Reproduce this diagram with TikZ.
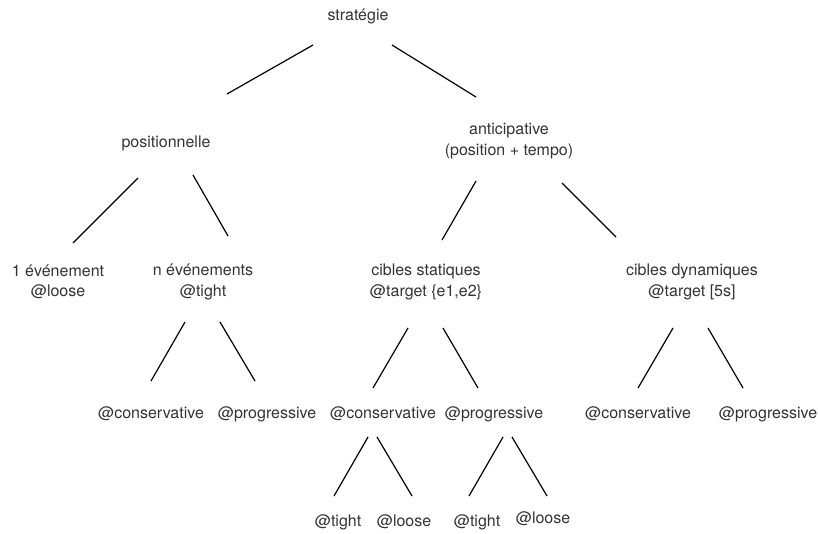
\documentclass[tikz,border=0pt]{standalone}
\usepackage{fontspec}
\setmainfont{TeX Gyre Heros}
\usetikzlibrary{calc}

\begin{document}
\begin{tikzpicture}[x=1pt, y=-1pt,
    line width=1.2pt,
    every node/.style={font=\fontsize{16}{20.5}\selectfont, text=black!80,
      align=center, inner sep=0pt}]
\useasboundingbox (0,0) rectangle (818,533);

\node (strat) at (358,16) {stratégie};
\node (pos) at (166,143) {positionnelle};
\node (anti) at (509,141) {anticipative\\(position + tempo)};
\node (ev1) at (58,282) {1 événement\\@loose};
\node (evn) at (203,282) {n événements\\@tight};
\node (stat) at (426,282) {cibles statiques\\@target \{e1,e2\}};
\node (dyn) at (692,282) {cibles dynamiques\\@target [5s]};
\node (cons1) at (151,414) {@conservative};
\node (prog1) at (267,414) {@progressive};
\node (cons2) at (383,414) {@conservative};
\node (prog2) at (494,414) {@progressive};
\node (cons3) at (638,414) {@conservative};
\node (prog3) at (768,414) {@progressive};
\node (tight1) at (338,522) {@tight};
\node (loose1) at (404,522) {@loose};
\node (tight2) at (477,522) {@tight};
\node (loose2) at (543,519) {@loose};

\draw ($(strat)+(-45,29)$) -- ($(pos)+(61,-49)$);
\draw ($(strat)+(34,29)$) -- ($(anti)+(-33,-44)$);
\draw ($(pos)+(-28,35)$) -- ($(ev1)+(15,-39)$);
\draw ($(pos)+(27,32)$) -- ($(evn)+(25,-46)$);
\draw ($(anti)+(-33,40)$) -- ($(stat)+(16,-42)$);
\draw ($(anti)+(53,42)$) -- ($(dyn)+(-76,-45)$);
\draw ($(evn)+(-18,40)$) -- ($(cons1)+(0,-33)$);
\draw ($(evn)+(17,40)$) -- ($(prog1)+(-12,-33)$);
\draw ($(stat)+(-18,46)$) -- ($(cons2)+(-10,-26)$);
\draw ($(stat)+(17,46)$) -- ($(prog2)+(-16,-26)$);
\draw ($(dyn)+(-19,46)$) -- ($(cons3)+(0,-26)$);
\draw ($(dyn)+(16,46)$) -- ($(prog3)+(-25,-26)$);
\draw ($(cons2)+(-15,23)$) -- ($(tight1)+(-4,-26)$);
\draw ($(cons2)+(-6,23)$) -- ($(loose1)+(8,-26)$);
\draw ($(prog2)+(9,23)$) -- ($(tight2)+(-8,-26)$);
\draw ($(prog2)+(18,23)$) -- ($(loose2)+(4,-23)$);
\end{tikzpicture}
\end{document}
